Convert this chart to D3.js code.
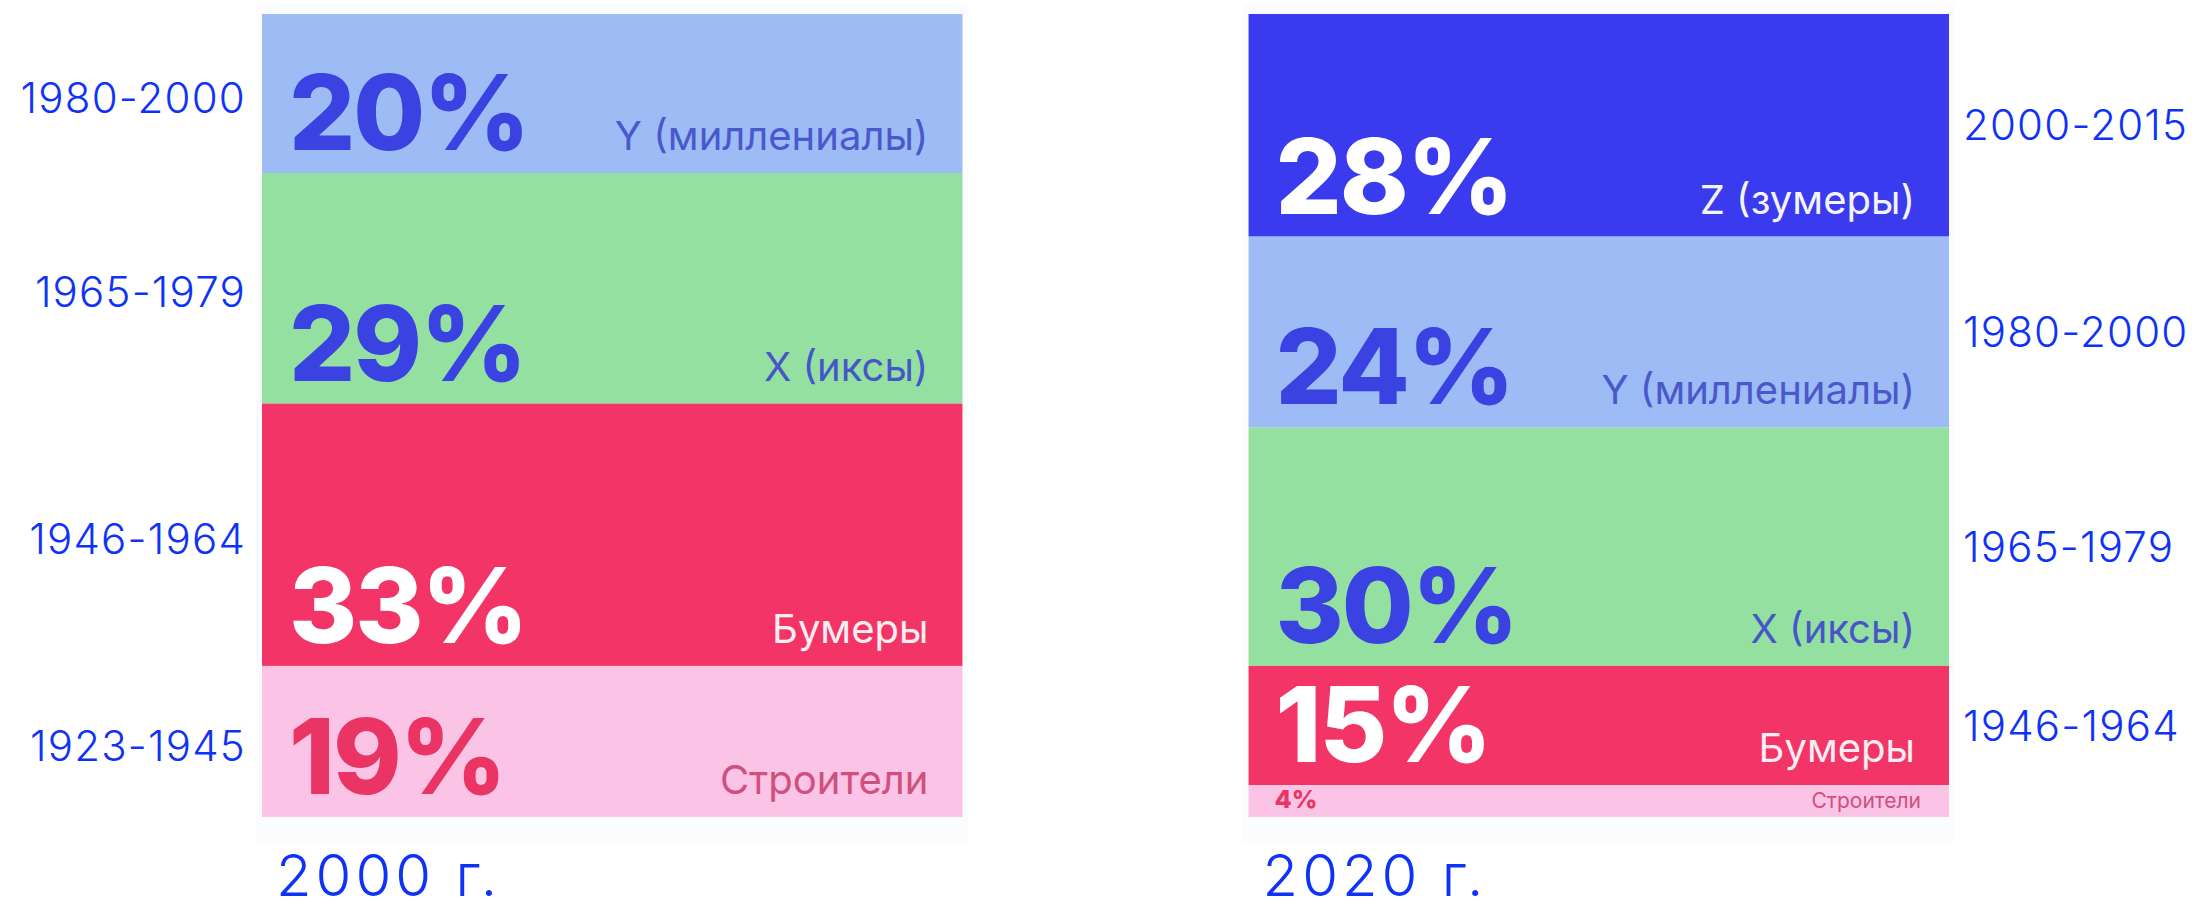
<!DOCTYPE html>
<html><head><meta charset="utf-8">
<script src="https://cdn.jsdelivr.net/npm/d3@7"></script>
<style>html,body{margin:0;padding:0;background:#fff;overflow:hidden}</style>
</head><body>
<svg id="chart" width="2193" height="911"></svg>
<script>
// ---- data ----
const years = ["2000 г.", "2020 г."];
const generations2000 = ["Y (миллениалы)", "X (иксы)", "Бумеры", "Строители"];
const ranges2000 = ["1980-2000", "1965-1979", "1946-1964", "1923-1945"];
const values2000 = [20, 29, 33, 19];
const generations2020 = ["Z (зумеры)", "Y (миллениалы)", "X (иксы)", "Бумеры", "Строители"];
const ranges2020 = ["2000-2015", "1980-2000", "1965-1979", "1946-1964", ""];
const values2020 = [28, 24, 30, 15, 4];

// ---- styles ----
const segStyle = {
  "Z (зумеры)":     {bg: "#3a3bee", num: "#ffffff", lab: "#f4f4ff"},
  "Y (миллениалы)": {bg: "#9dbcf6", num: "#3a42e2", lab: "#4b58cc"},
  "X (иксы)":       {bg: "#94e0a1", num: "#3a42e2", lab: "#4656c8"},
  "Бумеры":         {bg: "#f23566", num: "#ffffff", lab: "#fbeef2"},
  "Строители":      {bg: "#fbc3e5", num: "#ea3464", lab: "#cf4f7e"}
};
const thinFont = "Inter, 'Open Sans', sans-serif";

const svg = d3.select("#chart");
const x = d3.scaleBand().domain(years).range([262, 1949]).paddingInner(0.29);
const y = d3.scaleLinear().domain([0, 101]).range([14, 817]);

const charts = [
  {year: years[0], gens: generations2000, ranges: ranges2000, vals: values2000, side: "left"},
  {year: years[1], gens: generations2020, ranges: ranges2020, vals: values2020, side: "right"}
];

charts.forEach(c => {
  const x0 = x(c.year), bw = x.bandwidth();
  const g = svg.append("g");
  // faint card
  g.append("rect").attr("x", x0 - 6).attr("y", y(0) - 10).attr("width", bw + 12)
    .attr("height", y(101) - y(0) + 36).attr("fill", "#fbfcfd");
  let acc = 0;
  const segs = c.vals.map((v, i) => {
    const s = {gen: c.gens[i], range: c.ranges[i], v, y0: acc, y1: acc + v};
    acc += v; return s;
  });
  const seg = g.selectAll("g.seg").data(segs).join("g").attr("class", "seg");
  seg.append("rect")
    .attr("x", x0).attr("width", bw)
    .attr("y", d => y(d.y0)).attr("height", d => y(d.y1) - y(d.y0))
    .attr("fill", d => segStyle[d.gen].bg);
  seg.each(function(d) {
    const s = d3.select(this);
    const h = y(d.y1) - y(d.y0);
    const small = h < 60;
    const base = y(d.y1) - (small ? 9 : 23);
    s.append("text").attr("x", x0 + (small ? 26 : 27)).attr("y", base)
      .attr("font-family", "Inter, 'Noto Sans', sans-serif").attr("font-weight", 800)
      .attr("font-size", small ? 25 : 104).attr("letter-spacing", small ? 0 : -2)
      .attr("fill", segStyle[d.gen].num).text(d.v + "%");
    s.append("text").attr("x", x0 + bw - (small ? 28 : 34)).attr("y", base)
      .attr("text-anchor", "end")
      .attr("font-family", "Inter, 'Noto Sans', sans-serif").attr("font-weight", 400)
      .attr("font-size", small ? 21 : 40)
      .attr("fill", segStyle[d.gen].lab).text(d.gen);
    if (d.range) {
      const mid = (y(d.y0) + y(d.y1)) / 2 + (c.side === "left" ? 4 : 0);
      s.append("text")
        .attr("x", c.side === "left" ? x0 - 16 : x0 + bw + 14)
        .attr("y", mid).attr("dy", "0.36em")
        .attr("text-anchor", c.side === "left" ? "end" : "start")
        .attr("font-family", thinFont).attr("font-weight", 300)
        .attr("font-size", 42).attr("letter-spacing", 1.2)
        .attr("fill", "#0f33f6").text(d.range);
    }
  });
  g.append("text").attr("x", x0 + 14).attr("y", 896)
    .attr("font-family", thinFont).attr("font-weight", 300)
    .attr("font-size", 58).attr("letter-spacing", 4)
    .attr("fill", "#0f33f6").text(c.year);
});
</script>
</body></html>
